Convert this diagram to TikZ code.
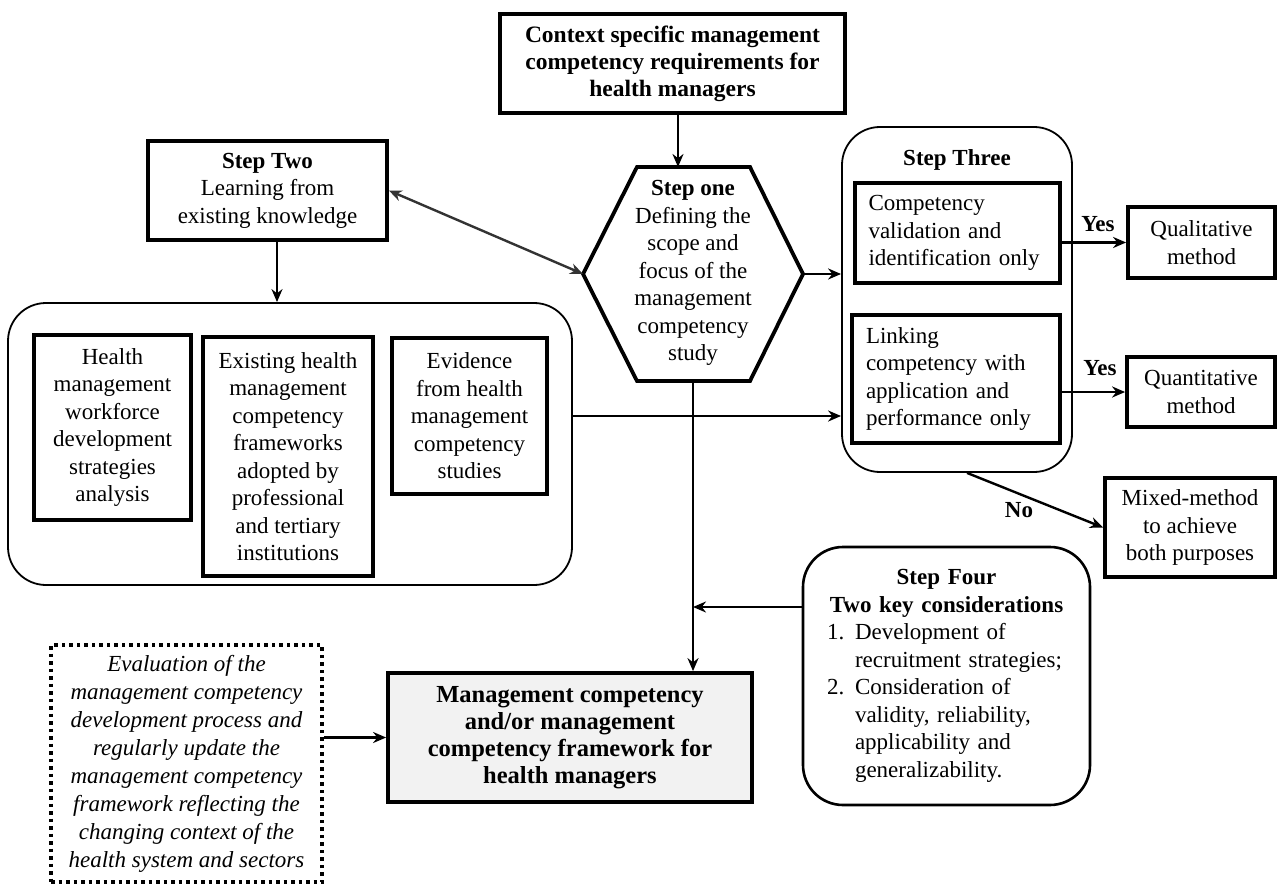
\documentclass[tikz,border=0pt]{standalone}
\usepackage{fontspec}
\setmainfont{Liberation Serif}
\usetikzlibrary{arrows.meta,calc}
\definecolor{boxgray}{HTML}{F2F2F2}
\begin{document}
\begin{tikzpicture}[x=1pt,y=-1pt,
  every node/.style={font=\fontsize{23}{27.5}\selectfont, inner sep=0pt},
  thickbox/.style={draw, line width=3.8pt, rectangle, align=center},
  thinround/.style={draw, line width=1.8pt, rounded corners=38pt, rectangle},
  arr/.style={line width=2.4pt, -{Stealth[length=13pt,width=11pt]}},
  lbl/.style={font=\fontsize{23}{27.5}\selectfont\bfseries}
]
\useasboundingbox (0,0) rectangle (1277,885);

% top box
\node[thickbox, minimum width=345, minimum height=99, font=\fontsize{23.5}{27}\selectfont\bfseries] (top) at (672.5,63.5)
  {Context specific management\\competency requirements for\\health managers};

% step two
\node[thickbox, minimum width=239, minimum height=99] (step2) at (267.5,190.5)
  {\textbf{Step Two}\\Learning from\\existing knowledge};

% hexagon (step one)
\coordinate (hexTL) at (637,167);
\coordinate (hexTR) at (750,167);
\coordinate (hexR) at (803,274);
\coordinate (hexBR) at (750,381);
\coordinate (hexBL) at (637,381);
\coordinate (hexL) at (583,274);
\coordinate (hexT) at (678,167);
\coordinate (hexB) at (693,381);
\draw[line width=3.8pt, line join=miter] (hexTL) -- (hexTR) -- (hexR) -- (hexBR) -- (hexBL) -- (hexL) -- cycle;
\node[align=center] (hex) at (693,273)
  {\textbf{Step one}\\Defining the\\scope and\\focus of the\\management\\competency\\study};

% left container
\node[thinround, minimum width=564, minimum height=282] (leftC) at (290,444) {};
\node[thickbox, minimum width=157, minimum height=185] (boxA) at (112.5,427.5)
  {Health\\management\\workforce\\development\\strategies\\analysis};
\node[thickbox, minimum width=170, minimum height=239] (boxB) at (288,456.5)
  {Existing health\\management\\competency\\frameworks\\adopted by\\professional\\and tertiary\\institutions};
\node[thickbox, minimum width=155, minimum height=156] (boxC) at (469.5,416)
  {Evidence\\from health\\management\\competency\\studies};

% step three container
\node[thinround, minimum width=230, minimum height=345] (s3c) at (957,299.5) {};
\node[lbl] (s3t) at (957,160) {Step Three};
\node[thickbox, align=left, text width=178, minimum width=205, minimum height=100] (s3a) at (957.5,233)
  {Competency\\validation and\\identification only};
\node[thickbox, align=left, text width=180, minimum width=208, minimum height=128] (s3b) at (956,379)
  {Linking\\competency with\\application and\\performance only};

% outcomes
\node[thickbox, minimum width=147, minimum height=71] (qual) at (1201.5,242.5) {Qualitative\\method};
\node[thickbox, minimum width=148, minimum height=70] (quant) at (1201,392) {Quantitative\\method};
\node[thickbox, minimum width=170, minimum height=99] (mixed) at (1190,527.5) {Mixed-method\\to achieve\\both purposes};

% step four
\node[draw, line width=2.6pt, rounded corners=40pt, minimum width=287, minimum height=258, text width=281] (step4) at (946.5,676)
  {{\centering\bfseries Step Four\\Two key considerations\par}%
   \raggedright\noindent
   \hspace*{21pt}\makebox[28pt][l]{1.}Development of\\
   \hspace*{49pt}recruitment strategies;\\
   \hspace*{21pt}\makebox[28pt][l]{2.}Consideration of\\
   \hspace*{49pt}validity, reliability,\\
   \hspace*{49pt}applicability and\\
   \hspace*{49pt}generalizability.\par};

% main result
\node[thickbox, fill=boxgray, minimum width=364, minimum height=129, font=\fontsize{24.5}{27}\selectfont\bfseries] (main) at (570,737.5)
  {Management competency\\and/or management\\competency framework for\\health managers};

% evaluation (dotted)
\node[draw, line width=3.5pt, dash pattern=on 3.5pt off 4pt, minimum width=271, minimum height=237, align=center, font=\fontsize{23}{28}\selectfont\itshape] (eval) at (186.5,763.5)
  {Evaluation of the\\management competency\\development process and\\regularly update the\\management competency\\framework reflecting the\\changing context of the\\health system and sectors};

% connectors
\draw[arr] (top.south -| hexT) -- (hexT);
\draw[line width=2.4pt, color=black!80, {Stealth[length=13pt,width=11pt]}-{Stealth[length=13pt,width=11pt]}] (step2.east) -- (hexL);
\draw[arr] ([xshift=9.5pt]step2.south) -- ([xshift=9.5pt]step2.south |- leftC.north);
\draw[arr] (leftC.east |- boxC.center) -- (s3c.west |- boxC.center);
\draw[arr] (hexR) -- (hexR -| s3c.west);
\draw[arr] (hexB) -- (hexB |- main.north);
\coordinate (j4) at (693,607);
\draw[arr] (step4.west |- j4) -- (j4);
\draw[arr] (s3a.east |- qual.west) -- (qual.west);
\draw[arr] (s3b.east |- quant.west) -- (quant.west);
\draw[arr] ([xshift=10pt]s3c.south) -- (mixed.west);
\draw[arr] (eval.east |- main.west) -- (main.west);

% labels
\node[lbl] (yes1) at (1098,224) {Yes};
\node[lbl] (yes2) at (1100,368) {Yes};
\node[lbl] (no) at (1019,510) {No};
\end{tikzpicture}
\end{document}
